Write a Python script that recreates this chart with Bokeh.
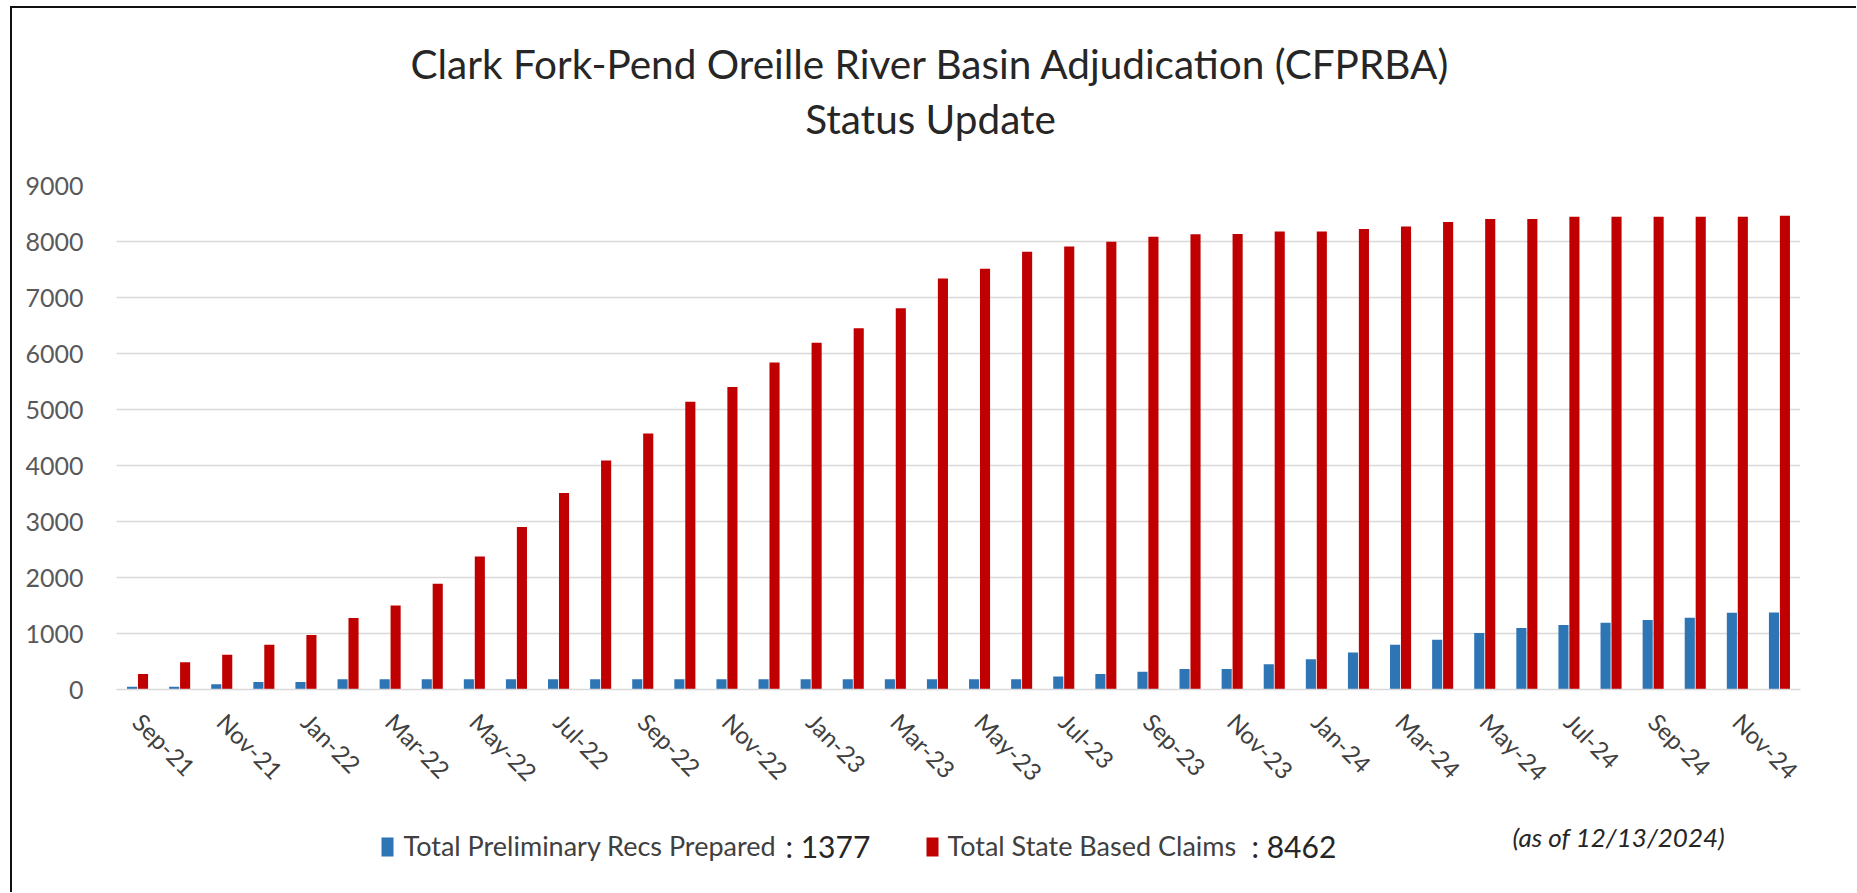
from bokeh.plotting import figure
from bokeh.models import ColumnDataSource, FixedTicker, Range1d
from bokeh.layouts import column
from bokeh.transform import dodge
from bokeh.embed import file_html
from bokeh.resources import INLINE
from bokeh.core.properties import value

# ---------------- data ----------------
months = ["Sep-21", "Oct-21", "Nov-21", "Dec-21",
          "Jan-22", "Feb-22", "Mar-22", "Apr-22", "May-22", "Jun-22",
          "Jul-22", "Aug-22", "Sep-22", "Oct-22", "Nov-22", "Dec-22",
          "Jan-23", "Feb-23", "Mar-23", "Apr-23", "May-23", "Jun-23",
          "Jul-23", "Aug-23", "Sep-23", "Oct-23", "Nov-23", "Dec-23",
          "Jan-24", "Feb-24", "Mar-24", "Apr-24", "May-24", "Jun-24",
          "Jul-24", "Aug-24", "Sep-24", "Oct-24", "Nov-24", "Dec-24"]

prelim_recs = [50, 50, 95, 135, 135, 185, 185, 185, 185, 185,
               185, 185, 185, 185, 185, 185, 185, 185, 185, 185,
               185, 185, 230, 275, 315, 365, 365, 450, 540, 660,
               800, 890, 1010, 1100, 1150, 1190, 1240, 1280, 1370, 1377]

state_claims = [275, 485, 620, 800, 975, 1275, 1500, 1890, 2375, 2900,
                3510, 4090, 4570, 5140, 5400, 5840, 6190, 6450, 6810, 7340,
                7515, 7815, 7910, 7995, 8085, 8130, 8135, 8180, 8180, 8225,
                8270, 8350, 8400, 8400, 8440, 8440, 8440, 8440, 8440, 8462]

y_ticks = [0, 1000, 2000, 3000, 4000, 5000, 6000, 7000, 8000, 9000]

title_lines = ["Clark Fork-Pend Oreille River Basin Adjudication (CFPRBA)", "Status Update"]
series_names = ["Total Preliminary Recs Prepared", "Total State Based Claims"]
series_totals = ["1377", "8462"]
note_text = "(as of 12/13/2024)"

BLUE = "#2e75b6"
RED = "#c00000"
FONT = "Lato"
W = 1844
H_HEAD, H_MAIN, H_FOOT = 152, 655, 77
FL, FR = 104, 1788          # frame left / right in canvas pixels


def blank_fig(h):
    f = figure(width=W, height=h, output_backend="svg", toolbar_location=None,
               x_range=Range1d(FL, FR), y_range=Range1d(h, 0),
               x_axis_type=None, y_axis_type=None,
               min_border_left=FL, min_border_right=W - FR,
               min_border_top=0, min_border_bottom=0,
               background_fill_color="white", border_fill_color="white")
    f.outline_line_color = None
    return f


# ---------------- header (title) ----------------
head = blank_fig(H_HEAD)
head.text(x=[918, 918], y=[55, 110], text=title_lines, text_align="center",
          text_baseline="alphabetic", text_font=value(FONT), text_font_size="40.5px",
          text_color="#262626")

# ---------------- main chart ----------------
idx = list(range(len(months)))
src = ColumnDataSource(dict(x=idx, recs=prelim_recs, claims=state_claims, month=months))

p = figure(width=W, height=H_MAIN, output_backend="svg", toolbar_location=None,
           x_range=Range1d(-0.5, len(months) - 0.5), y_range=Range1d(0, 9000),
           min_border_left=FL, min_border_right=W - FR, min_border_top=25,
           min_border_bottom=126, background_fill_color="white",
           border_fill_color="white")
p.outline_line_color = None

r_blue = p.vbar(x=dodge("x", -0.13), top="recs", width=0.24, source=src,
                fill_color=BLUE, line_color=None)
r_red = p.vbar(x=dodge("x", 0.13), top="claims", width=0.24, source=src,
               fill_color=RED, line_color=None)

p.xaxis.ticker = FixedTicker(ticks=idx[::2])
p.xaxis.major_label_overrides = {i: months[i] for i in idx}
p.xaxis.major_label_orientation = -0.785398
p.xaxis.major_tick_line_color = None
p.xaxis.minor_tick_line_color = None
p.xaxis.axis_line_color = "#d9d9d9"
p.xaxis.axis_line_width = 1.5
p.xaxis.major_label_text_font = FONT
p.xaxis.major_label_text_font_size = "24px"
p.xaxis.major_label_text_color = "#404040"
p.xaxis.major_label_standoff = 22

p.yaxis.ticker = FixedTicker(ticks=y_ticks)
p.yaxis.major_tick_line_color = None
p.yaxis.minor_tick_line_color = None
p.yaxis.axis_line_color = None
p.yaxis.major_label_text_font = FONT
p.yaxis.major_label_text_font_size = "25px"
p.yaxis.major_label_text_color = "#595959"
p.yaxis.major_label_standoff = 27

p.xgrid.grid_line_color = None
p.ygrid.grid_line_color = "#d9d9d9"
p.ygrid.grid_line_width = 1.5

# ---------------- footer (legend) ----------------
foot = blank_fig(H_FOOT)
foot.quad(left=[369, 914], right=[381, 926], top=[22, 22], bottom=[41, 41],
          fill_color=[BLUE, RED], line_color=None)
foot.text(x=[391, 935], y=[30, 30], text=series_names, text_baseline="alphabetic",
          text_font=value(FONT), text_font_size="27px", text_color="#404040")
foot.text(x=[773, 1239], y=[30, 30], text=[":  " + t for t in series_totals],
          text_baseline="alphabetic", text_font=value(FONT), text_font_size="30px",
          text_color="#262626")
foot.text(x=[1500], y=[21], text=[note_text], text_baseline="alphabetic",
          text_font=value(FONT), text_font_size="26px", text_font_style="italic",
          text_color="#262626")

layout = column(head, p, foot, spacing=0,
                styles={"margin-left": "10px", "margin-top": "6px",
                        "border-left": "2px solid #111111",
                        "border-top": "2px solid #111111"})

open("out.html", "w").write(file_html(layout, INLINE))
